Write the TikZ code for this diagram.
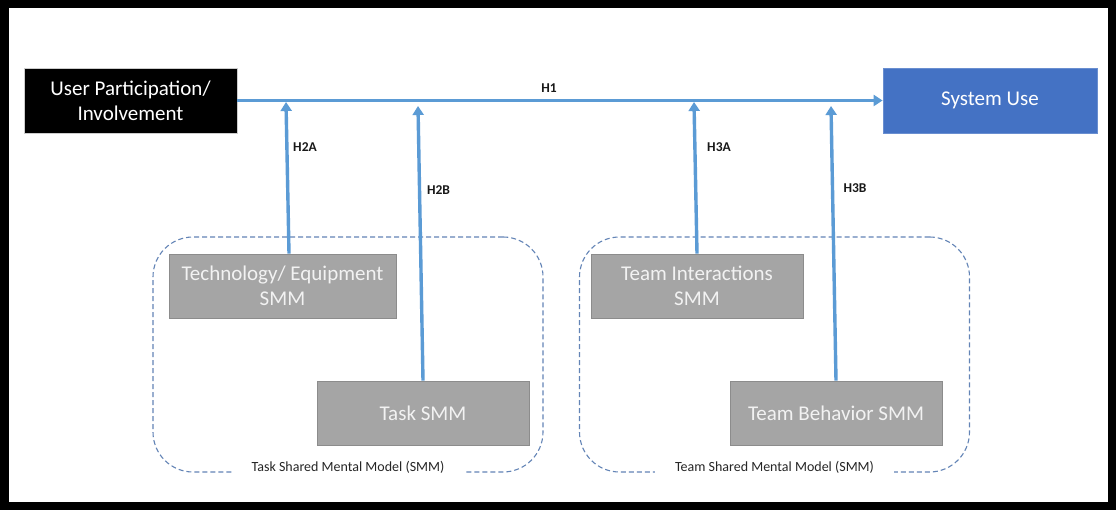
\documentclass[tikz,border=0pt]{standalone}
\usepackage{fontspec}
\setmainfont{Carlito}
\usetikzlibrary{arrows.meta}

\definecolor{linkblue}{HTML}{5B9BD5}
\definecolor{useblue}{HTML}{4472C4}
\definecolor{smmgray}{HTML}{A5A5A5}
\definecolor{smmedge}{HTML}{8C8C8C}
\definecolor{grpedge}{HTML}{6384B6}
\definecolor{labeltext}{HTML}{262626}

\tikzset{
  box/.style={rectangle, inner sep=0pt, align=center, text=white,
    font=\fontsize{21}{25}\selectfont, line width=0.8pt},
  startbox/.style={box, fill=black, draw=black!20, minimum width=213pt, minimum height=65pt},
  usebox/.style={box, fill=useblue, draw=useblue!80!white, minimum width=214pt, minimum height=65pt},
  smmbox/.style={box, fill=smmgray, draw=smmedge, text=white!95!black,
    minimum width=212pt, minimum height=64pt},
  group/.style={rectangle, draw=grpedge, line width=1.1pt, dash pattern=on 5pt off 3pt,
    rounded corners=40pt, minimum width=390pt, minimum height=235pt, inner sep=0pt},
  grouplabel/.style={fill=white, inner xsep=20pt, inner ysep=3pt, text=labeltext,
    font=\fontsize{14}{16}\selectfont},
  link/.style={draw=linkblue, line width=3.4pt,
    -{Triangle[width=11pt,length=9pt]}},
  hyp/.style={font=\fontsize{13.5}{15}\bfseries\selectfont, text=black!90, inner sep=0pt}
}

\begin{document}
\begin{tikzpicture}[x=1pt, y=-1pt]
  % black frame
  \fill[black] (0,0) rectangle (1116,510);
  \fill[white] (9,8) rectangle (1108,502);
  \useasboundingbox (0,0) rectangle (1116,510);

  % dashed groups
  \node[group] (taskgrp) at (348,354.5) {};
  \node[group] (teamgrp) at (774.5,354.5) {};
  \node[grouplabel] (tasklbl) at ([yshift=5pt]taskgrp.south) {Task Shared Mental Model (SMM)};
  \node[grouplabel] (teamlbl) at ([yshift=5pt]teamgrp.south) {Team Shared Mental Model (SMM)};

  % main boxes
  \node[startbox] (user) at (130.5,100.5) {User Participation/\\Involvement};
  \node[usebox] (use) at (990,100.5) {System Use};

  % SMM boxes
  \node[smmbox, minimum width=227pt] (tech) at (282.5,286) {Technology/ Equipment\\SMM};
  \node[smmbox] (task) at (423,413) {Task SMM};
  \node[smmbox] (inter) at (697,286) {Team Interactions\\SMM};
  \node[smmbox] (behav) at (836,413) {Team Behavior SMM};

  % H1
  \draw[link] (user.east) -- (use.west);
  \node[hyp] (h1) at (549,88) {H1};

  % moderating links ending on the H1 line
  \coordinate (m2a) at (286,102);
  \coordinate (m2b) at (418,106);
  \coordinate (m3a) at (694,102);
  \coordinate (m3b) at (831,106);

  \draw[link] ([xshift=6.5pt]tech.north) -- (m2a);
  \draw[link] (task.north) -- (m2b);
  \draw[link] (inter.north) -- (m3a);
  \draw[link] (behav.north) -- (m3b);

  \node[hyp] (h2a) at (305,147) {H2A};
  \node[hyp] (h2b) at (438.5,190) {H2B};
  \node[hyp] (h3a) at (719,147) {H3A};
  \node[hyp] (h3b) at (855,188) {H3B};
\end{tikzpicture}
\end{document}
